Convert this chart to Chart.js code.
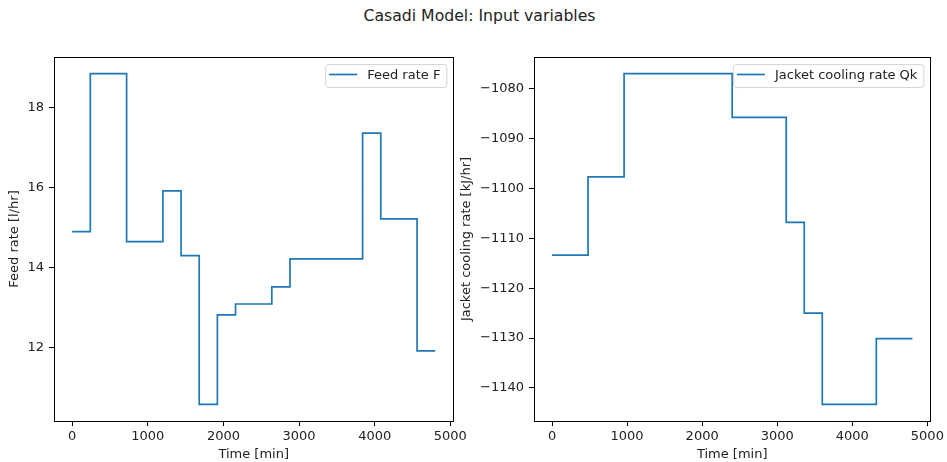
<html>
<head>
  <style>
    body{
      margin: 0;
      background: #FFF;
      font-family: "DejaVu Sans", sans-serif;
    }
    #title{
      position: absolute;
      left: 0;
      top: 7px;
      width: 959px;
      text-align: center;
      font-size: 15.7px;
      line-height: 18px;
      color: #222;
    }
    .box{ position: absolute; top: 0; height: 462px; }
    #left{ left: 0; width: 470px; }
    #right{ left: 458px; width: 489px; }
  </style>
  <script src="https://cdn.jsdelivr.net/npm/chart.js"></script>
</head>
<body>

<div id="title">Casadi Model: Input variables</div>
<div class="box" id="left"><canvas id="feedChart"></canvas></div>
<div class="box" id="right"><canvas id="jacketChart"></canvas></div>

<script>
  var time = [0, 240, 480, 720, 960, 1200, 1440, 1680, 1920, 2160, 2400, 2640, 2880, 3120, 3360, 3600, 3840, 4080, 4320, 4560, 4800];
  var feedRate = [14.9, 18.85, 18.85, 14.65, 14.65, 15.92, 14.3, 10.58, 12.82, 13.09, 13.09, 13.52, 14.22, 14.22, 14.22, 14.22, 17.36, 15.22, 15.22, 11.92, 11.92];
  var jacketRate = [-1113.4, -1113.4, -1097.7, -1097.7, -1077.0, -1077.0, -1077.0, -1077.0, -1077.0, -1077.0, -1085.8, -1085.8, -1085.8, -1106.8, -1125.0, -1143.3, -1143.3, -1143.3, -1130.1, -1130.1, -1130.1];
  var xTicks = [0, 1000, 2000, 3000, 4000, 5000];
  var feedTicks = [12, 14, 16, 18];
  var jacketTicks = [-1140, -1130, -1120, -1110, -1100, -1090, -1080];

  var font = {family: "DejaVu Sans", size: 13};
  var textColor = "#222";

  // box round the plot area, like matplotlib spines
  var framePlugin = {
    id: 'frame',
    afterDatasetsDraw: function(chart) {
      var a = chart.chartArea, c = chart.ctx;
      c.save();
      c.strokeStyle = "#000";
      c.lineWidth = 1;
      c.strokeRect(Math.round(a.left) + 0.5, Math.round(a.top) + 0.5,
                   Math.round(a.right - a.left), Math.round(a.bottom - a.top));
      c.restore();
    }
  };

  // matplotlib style legend in the upper right corner
  var legendPlugin = {
    id: 'mplLegend',
    afterDraw: function(chart) {
      var a = chart.chartArea, c = chart.ctx;
      var ds = chart.data.datasets[0];
      c.save();
      c.font = "13px 'DejaVu Sans'";
      var tw = c.measureText(ds.label).width;
      var w = 4 + 28 + 10 + tw + 6, h = 23;
      var x = a.right - 7 - w, y = a.top + 7;
      c.beginPath();
      c.roundRect(x + 0.5, y + 0.5, w, h, 3);
      c.fillStyle = "rgba(255,255,255,0.8)";
      c.fill();
      c.strokeStyle = "rgba(204,204,204,0.8)";
      c.lineWidth = 1;
      c.stroke();
      c.beginPath();
      c.moveTo(x + 4, y + 10.5);
      c.lineTo(x + 32, y + 10.5);
      c.strokeStyle = ds.borderColor;
      c.lineWidth = 1.7;
      c.stroke();
      c.fillStyle = textColor;
      c.textBaseline = "middle";
      c.fillText(ds.label, x + 42, y + 11.5);
      c.restore();
    }
  };

  function minus(v) {
    return v < 0 ? '\u2212' + Math.abs(v) : '' + v;
  }

  function padded(values) {
    var lo = Math.min.apply(null, values), hi = Math.max.apply(null, values);
    var m = (hi - lo) * 0.05;
    return [lo - m, hi + m];
  }

  function makeChart(id, label, values, yTicks, yTitle, yWidth, titlePad, rightPad) {
    var lim = padded(values);
    var xLim = padded(time);
    return new Chart(document.getElementById(id), {
      type: 'line',
      data: {
        datasets: [{
          label: label,
          data: time.map(function(t, i) { return {x: t, y: values[i]}; }),
          borderColor: "#1f77b4",
          borderWidth: 1.7,
          pointRadius: 0,
          stepped: 'before',
          fill: false
        }]
      },
      options: {
        responsive: true,
        maintainAspectRatio: false,
        animation: false,
        events: [],
        layout: {padding: {top: 57, right: rightPad, left: 0, bottom: 0}},
        plugins: {
          legend: {display: false},
          tooltip: {enabled: false}
        },
        scales: {
          x: {
            type: 'linear',
            min: xLim[0],
            max: xLim[1],
            afterBuildTicks: function(s) { s.ticks = xTicks.map(function(v) { return {value: v}; }); },
            afterFit: function(s) { s.height = 41; },
            grid: {drawOnChartArea: false, drawTicks: true, tickLength: 5, color: "#000"},
            border: {display: false},
            ticks: {font: font, color: textColor, padding: 3, maxRotation: 0, callback: minus},
            title: {display: true, text: 'Time [min]', font: font, color: textColor, padding: {top: 0, bottom: 0}}
          },
          y: {
            min: lim[0],
            max: lim[1],
            afterBuildTicks: function(s) { s.ticks = yTicks.map(function(v) { return {value: v}; }); },
            afterFit: function(s) { s.width = yWidth; },
            grid: {drawOnChartArea: false, drawTicks: true, tickLength: 5, color: "#000"},
            border: {display: false},
            ticks: {font: font, color: textColor, padding: 5, callback: minus},
            title: {display: true, text: yTitle, font: font, color: textColor, padding: {top: titlePad, bottom: 0}}
          }
        }
      },
      plugins: [framePlugin, legendPlugin]
    });
  }

  makeChart('feedChart', 'Feed rate F', feedRate, feedTicks, 'Feed rate [l/hr]', 54, 7, 15);
  makeChart('jacketChart', 'Jacket cooling rate Qk', jacketRate, jacketTicks, 'Jacket cooling rate [kJ/hr]', 76, 1, 12);
</script>
</body>
</html>
